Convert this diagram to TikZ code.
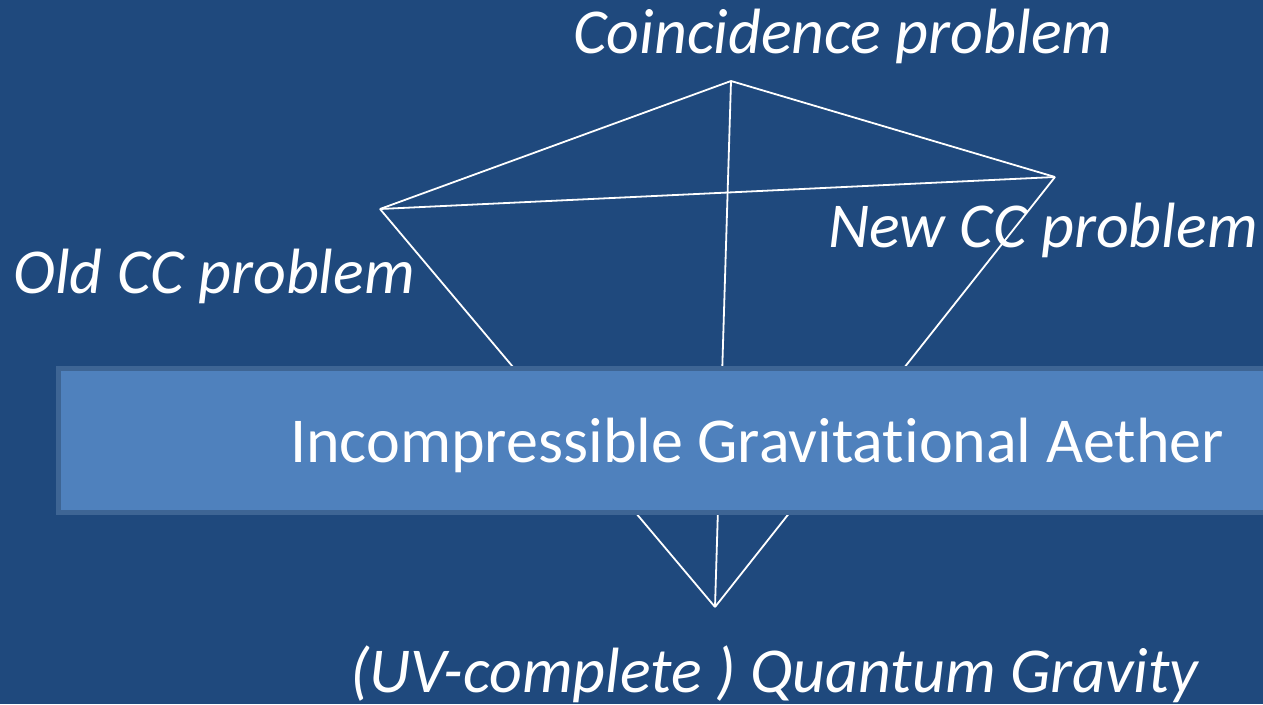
\documentclass[tikz,border=0pt]{standalone}
\usepackage{fontspec}
\setmainfont{Carlito}[Ligatures={NoCommon}]
\definecolor{bgblue}{RGB}{31,73,125}
\definecolor{boxfill}{RGB}{79,129,189}
\definecolor{boxedge}{RGB}{62,101,148}
\tikzset{
  edge/.style={draw=white, line width=1.8pt},
  lbl/.style={text=white, font=\fontsize{64}{72}\selectfont\itshape, inner sep=0pt, anchor=base west},
  bandbox/.style={fill=boxfill, draw=boxedge, line width=5pt}
}
\begin{document}
\begin{tikzpicture}[x=1pt,y=-1pt]
\fill[bgblue] (0,0) rectangle (1263,704);
\useasboundingbox (0,0) rectangle (1263,704);
\clip (0,0) rectangle (1263,704);
\coordinate (T) at (731,81);
\coordinate (L) at (380,209);
\coordinate (R) at (1055,177);
\coordinate (B) at (715,607);
\draw[edge] (T) -- (L);
\draw[edge] (T) -- (R);
\draw[edge] (L) -- (R);
\draw[edge] (T) -- (B);
\draw[edge] (L) -- (B);
\draw[edge] (R) -- (B);
\draw[bandbox] (58.5,368.5) rectangle (1300,512.5);
\node[lbl, font=\fontsize{64}{72}\selectfont\upshape] (aether) at (290,462) {Incompressible Gravitational Aether};
\node[lbl] (coin) at (573,53) {Coincidence problem};
\node[lbl] (old) at (13,293) {Old CC problem};
\node[lbl] (new) at (828,247) {New CC problem};
\node[lbl] (qg) at (350,692) {(UV-complete ) Quantum Gravity};
\end{tikzpicture}
\end{document}
